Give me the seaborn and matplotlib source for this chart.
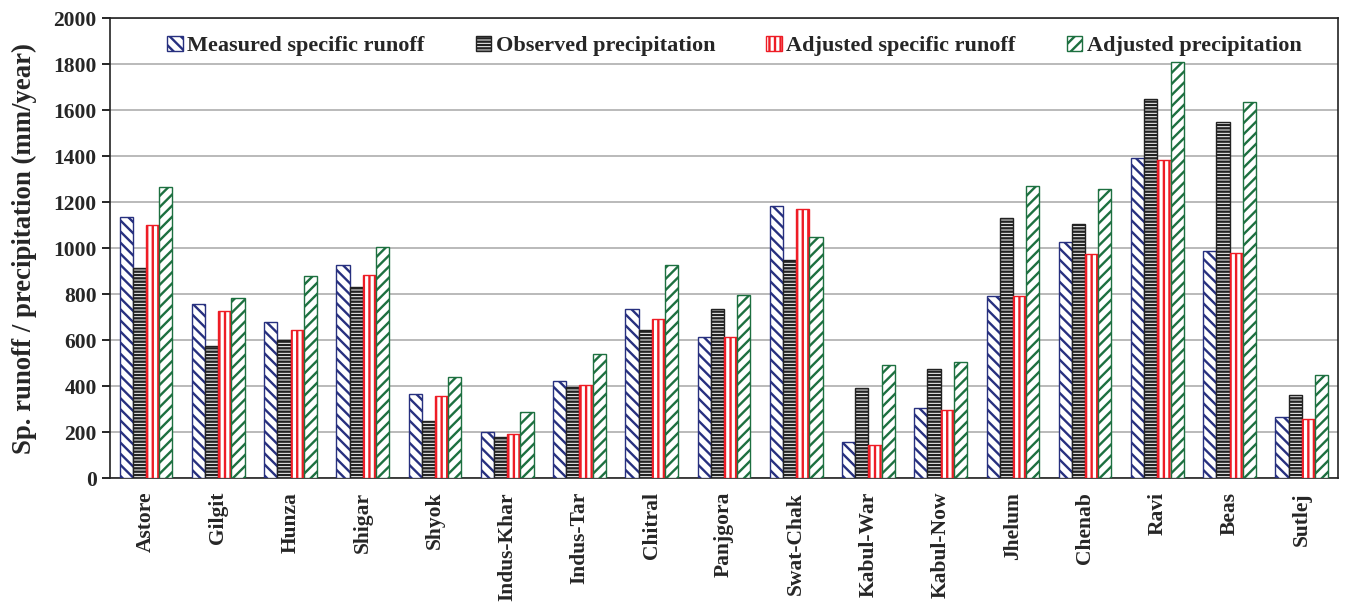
import numpy as np
import pandas as pd
import matplotlib
matplotlib.use("Agg")
import matplotlib.pyplot as plt
from matplotlib.patches import Patch
import seaborn as sns

basins = ["Astore", "Gilgit", "Hunza", "Shigar", "Shyok", "Indus-Khar", "Indus-Tar",
          "Chitral", "Panjgora", "Swat-Chak", "Kabul-War", "Kabul-Now", "Jhelum",
          "Chenab", "Ravi", "Beas", "Sutlej"]

measured_runoff = [1135, 755, 680, 925, 365, 200, 420, 735, 615, 1185, 155, 305, 790, 1025, 1390, 987, 267]
observed_precip = [915, 575, 600, 830, 250, 180, 395, 645, 735, 950, 390, 475, 1130, 1105, 1648, 1548, 361]
adjusted_runoff = [1100, 725, 645, 885, 355, 190, 405, 690, 615, 1170, 145, 295, 790, 975, 1383, 980, 257]
adjusted_precip = [1265, 785, 880, 1005, 440, 285, 540, 925, 795, 1050, 490, 505, 1270, 1255, 1810, 1636, 446]

series_names = ["Measured specific runoff", "Observed precipitation",
                "Adjusted specific runoff", "Adjusted precipitation"]
series_values = [measured_runoff, observed_precip, adjusted_runoff, adjusted_precip]

edge_colors = ["#27307f", "#222222", "#ee1c25", "#1d7040"]
hatches = ["\\\\\\", "-----", "|||", "///"]

df = pd.DataFrame({
    "basin": np.repeat([basins], len(series_names), axis=0).ravel(),
    "series": np.repeat(series_names, len(basins)),
    "value": np.concatenate(series_values),
})

sns.set_style("white")
plt.rcParams["font.family"] = ["Liberation Serif", "DejaVu Serif"]
plt.rcParams["font.weight"] = "bold"
plt.rcParams["hatch.linewidth"] = 1.7

fig = plt.figure(figsize=(13.46, 6.04), dpi=100)
ax = fig.add_axes([0.0817, 0.2086, 0.9123, 0.7614])

sns.barplot(data=df, x="basin", y="value", hue="series", order=basins,
            hue_order=series_names, palette=edge_colors, saturation=1,
            width=0.73, gap=0, legend=False, ax=ax, zorder=3)

for container, ec, h in zip(ax.containers, edge_colors, hatches):
    for bar in container:
        bar.set_facecolor("white")
        bar.set_edgecolor(ec)
        bar.set_hatch(h)
        bar.set_linewidth(1.0)

ax.set_ylim(0, 2000)
ax.set_yticks(np.arange(0, 2001, 200))
ax.set_xlim(-0.5, len(basins) - 0.5)
ax.yaxis.grid(True, color="#b4b4b4", linewidth=1.3, zorder=0)
ax.set_axisbelow(True)

# category separators as ticks, labels at centres
ax.set_xticks(np.arange(len(basins)))
ax.set_xticklabels(basins, rotation=90, fontsize=15.5, fontweight="bold")
ax.set_xticks(np.arange(-0.5, len(basins), 1), minor=True)
ax.tick_params(axis="x", which="major", length=0, pad=10)
ax.tick_params(axis="x", which="minor", length=6, width=1.2, direction="out", color="black")
ax.tick_params(axis="y", which="major", length=6, width=1.2, direction="out",
               color="black", labelsize=15.5, left=True)
for lab in ax.get_yticklabels():
    lab.set_fontweight("bold")

ax.set_xlabel("")
ax.set_ylabel("Sp. runoff / precipitation (mm/year)", fontsize=19.3, fontweight="bold", labelpad=12)

for side in ["left", "bottom", "top", "right"]:
    ax.spines[side].set_visible(True)
    ax.spines[side].set_color("#222222")
    ax.spines[side].set_linewidth(1.2)

handles = [Patch(facecolor="white", edgecolor=ec, hatch=h, linewidth=1.0)
           for ec, h in zip(edge_colors, hatches)]
ax.legend(handles, series_names, loc="upper center", bbox_to_anchor=(0.5086, 1.005),
          ncol=4, frameon=False, prop={"weight": "bold", "size": 16},
          handlelength=0.7, handleheight=0.7, handletextpad=0.2, columnspacing=2.3)

fig.savefig("out.png", dpi=100)
